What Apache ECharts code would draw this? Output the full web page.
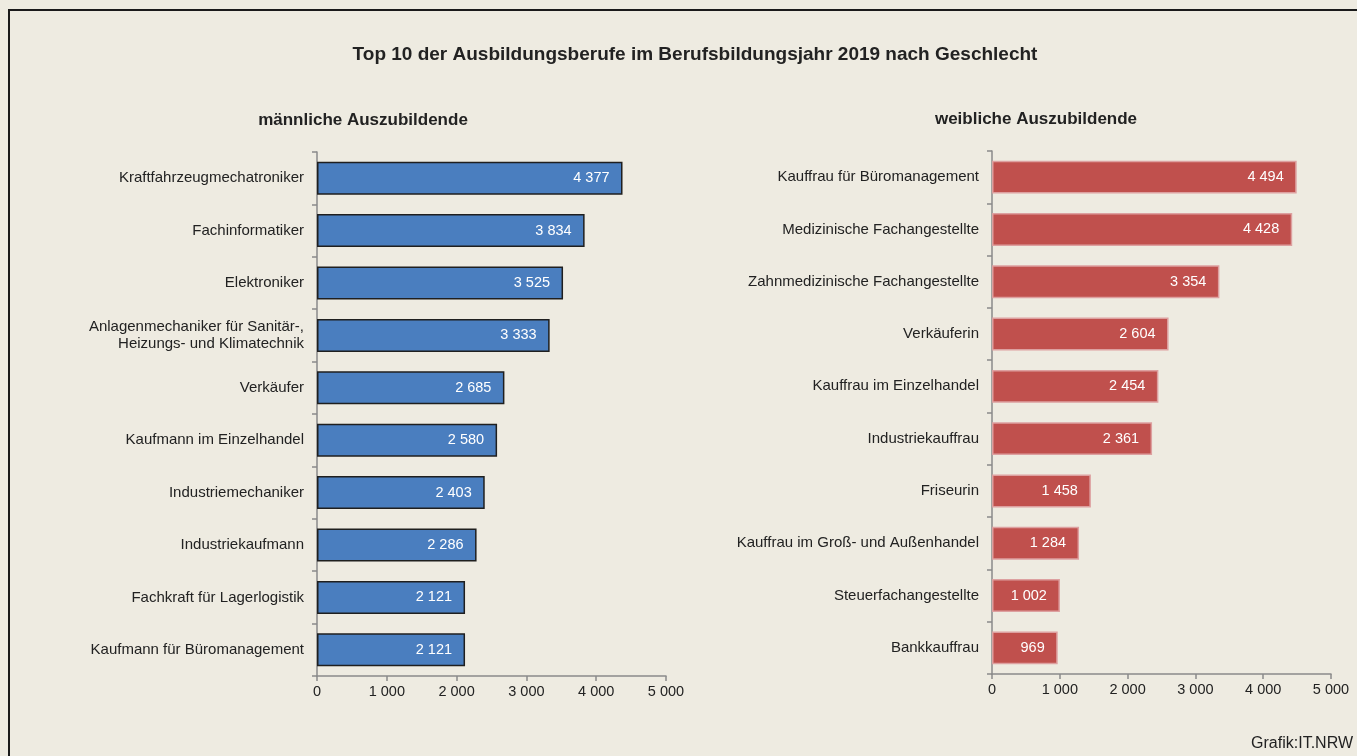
<!DOCTYPE html>
<html>
<head>
<meta charset="utf-8">
<script src="https://cdn.jsdelivr.net/npm/echarts@6/dist/echarts.min.js"></script>
<style>
  html, body { margin: 0; padding: 0; background: #EEEBE1; }
  #chart { width: 1357px; height: 756px; }
</style>
</head>
<body>
<div id="chart"></div>
<script>
// Top 10 Ausbildungsberufe 2019 nach Geschlecht (IT.NRW)
const MALE_JOBS = [
  "Kraftfahrzeugmechatroniker",
  "Fachinformatiker",
  "Elektroniker",
  "Anlagenmechaniker für Sanitär-,\nHeizungs- und Klimatechnik",
  "Verkäufer",
  "Kaufmann im Einzelhandel",
  "Industriemechaniker",
  "Industriekaufmann",
  "Fachkraft für Lagerlogistik",
  "Kaufmann für Büromanagement",
];
const MALE_VALUES = [4377, 3834, 3525, 3333, 2685, 2580, 2403, 2286, 2121, 2121];

const FEMALE_JOBS = [
  "Kauffrau für Büromanagement",
  "Medizinische Fachangestellte",
  "Zahnmedizinische Fachangestellte",
  "Verkäuferin",
  "Kauffrau im Einzelhandel",
  "Industriekauffrau",
  "Friseurin",
  "Kauffrau im Groß- und Außenhandel",
  "Steuerfachangestellte",
  "Bankkauffrau",
];
const FEMALE_VALUES = [4494, 4428, 3354, 2604, 2454, 2361, 1458, 1284, 1002, 969];

const FONT = "'Liberation Sans', Arial, sans-serif";
const TEXT = "#222222";
const AXIS_GRAY = "#8a8a8a";

// 1 000-Trennzeichen wie im Original
const fmt = (v) => String(v).replace(/\B(?=(\d{3})+(?!\d))/g, " ");

function xAxisFor(gridIndex) {
  return {
    type: "value",
    gridIndex,
    min: 0,
    max: 5000,
    interval: 1000,
    splitLine: { show: false },
    axisLine: { show: true, lineStyle: { color: AXIS_GRAY, width: 1.5 } },
    axisTick: { show: true, length: 5, lineStyle: { color: AXIS_GRAY, width: 1.5 } },
    axisLabel: { color: TEXT, fontSize: 14.5, fontFamily: FONT, margin: 8, formatter: fmt },
  };
}

function yAxisFor(gridIndex, cats) {
  return {
    type: "category",
    gridIndex,
    data: cats,
    inverse: true,
    axisLine: { show: true, lineStyle: { color: AXIS_GRAY, width: 1.5 } },
    axisTick: { show: true, length: 5, lineStyle: { color: AXIS_GRAY, width: 1.5 } },
    axisLabel: { color: TEXT, fontSize: 15, fontFamily: FONT, margin: 13, lineHeight: 17 },
  };
}

function barSeries(idx, values, color, border) {
  return {
    type: "bar",
    xAxisIndex: idx,
    yAxisIndex: idx,
    data: values,
    barWidth: "63%",
    itemStyle: { color, borderColor: border, borderWidth: 1.5 },
    label: {
      show: true,
      position: "insideRight",
      distance: 13,
      color: "#ffffff",
      fontSize: 14.5,
      fontFamily: FONT,
      formatter: (p) => fmt(p.value),
    },
    silent: true,
  };
}

const chart = echarts.init(document.getElementById("chart"));
chart.setOption({
  backgroundColor: "#EEEBE1",
  animation: false,
  title: [
    {
      text: "Top 10 der Ausbildungsberufe im Berufsbildungsjahr 2019 nach Geschlecht",
      left: 690, top: 40, textAlign: "center",
      textStyle: { color: TEXT, fontSize: 19, fontWeight: "bold", fontFamily: FONT },
    },
    {
      text: "männliche Auszubildende",
      left: 358, top: 107, textAlign: "center",
      textStyle: { color: TEXT, fontSize: 17, fontWeight: "bold", fontFamily: FONT },
    },
    {
      text: "weibliche Auszubildende",
      left: 1031, top: 106, textAlign: "center",
      textStyle: { color: TEXT, fontSize: 17, fontWeight: "bold", fontFamily: FONT },
    },
    {
      text: "Grafik:IT.NRW",
      right: -1, top: 731,
      textStyle: { color: TEXT, fontSize: 16, fontWeight: "normal", fontFamily: FONT },
    },
  ],
  graphic: [
    {
      type: "rect",
      shape: { x: 9, y: 10, width: 1360, height: 760 },
      style: { fill: "none", stroke: "#1a1a1a", lineWidth: 2 },
      silent: true,
    },
  ],
  grid: [
    { left: 317, top: 152, width: 349, height: 524 },
    { left: 992, top: 151, width: 339, height: 523 },
  ],
  xAxis: [xAxisFor(0), xAxisFor(1)],
  yAxis: [yAxisFor(0, MALE_JOBS), yAxisFor(1, FEMALE_JOBS)],
  series: [
    barSeries(0, MALE_VALUES, "#4A7EBF", "#1f1f1f"),
    barSeries(1, FEMALE_VALUES, "#C0504D", "#DDA0A0"),
  ],
});
</script>
</body>
</html>
